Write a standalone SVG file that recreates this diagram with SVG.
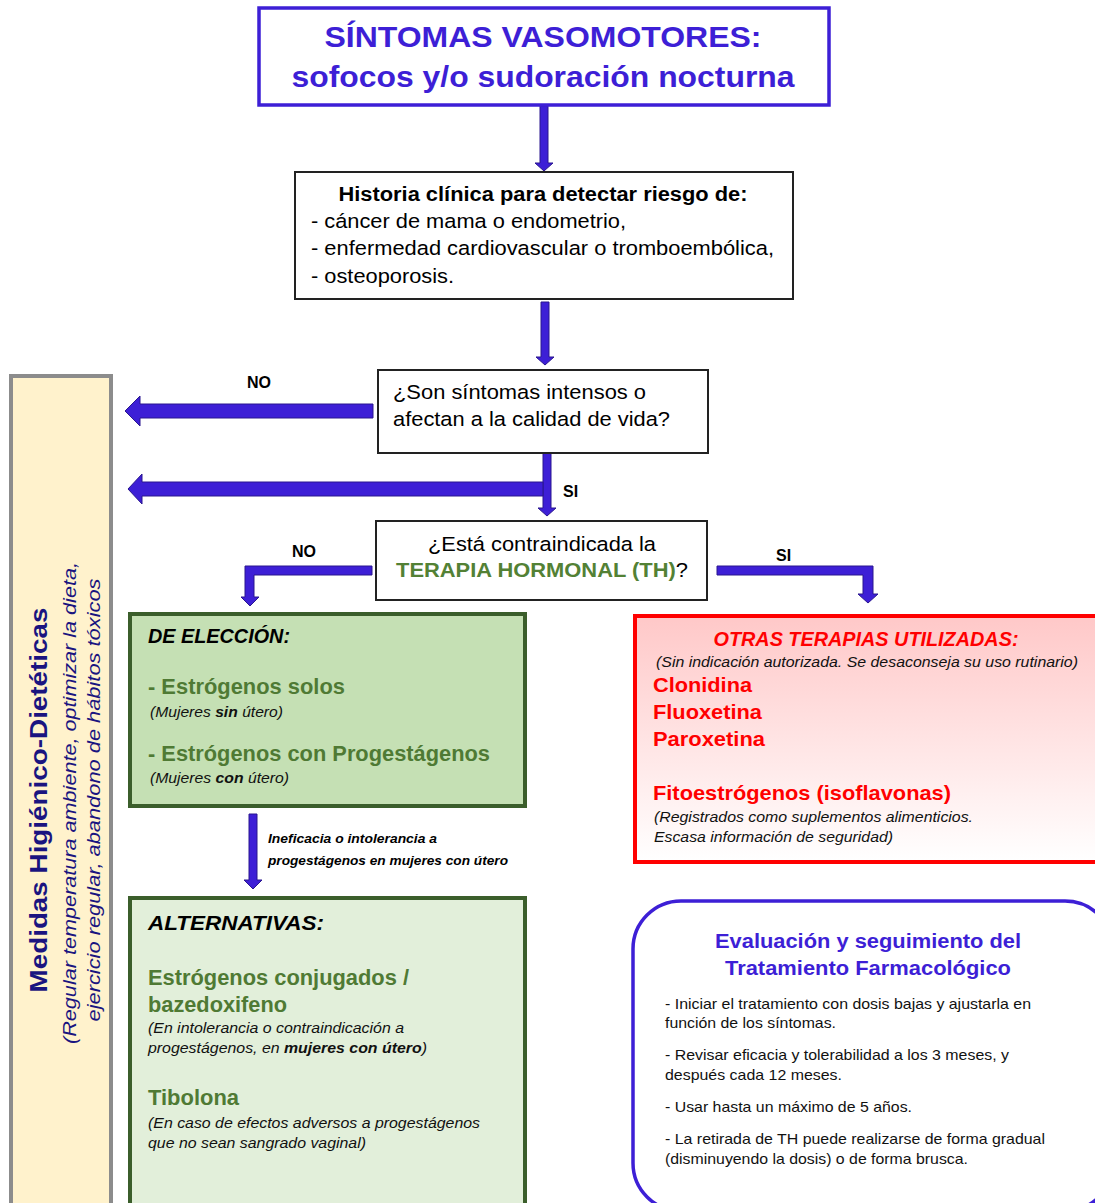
<svg xmlns="http://www.w3.org/2000/svg" width="1095" height="1203" viewBox="0 0 1095 1203">
<defs>
<linearGradient id="redgrad" x1="0" y1="0" x2="0" y2="1">
<stop offset="0" stop-color="#ffc8c8"/>
<stop offset="1" stop-color="#ffffff"/>
</linearGradient>
<style>
text{font-family:"Liberation Sans",Arial,sans-serif;}
.arrow{fill:#3d1fd6;stroke:#2a168f;stroke-width:1;}
.blue{fill:#3d1fd6;}
.lbl{font-size:16px;font-weight:bold;fill:#000;}
.body{font-size:20.5px;fill:#000;}
.green{fill:#4f7a34;font-weight:bold;font-size:21.5px;}
.note{font-size:14.5px;font-style:italic;fill:#111;}
.red{fill:#ff0000;font-weight:bold;font-size:21px;}
.ev{font-size:15px;fill:#111;}
</style>
</defs>
<rect width="1095" height="1203" fill="#ffffff"/>

<g id="connectors">
<polygon class="arrow" points="540,106 548,106 548,163 553,163 544,171 535,163 540,163"/>
<polygon class="arrow" points="541,302 549,302 549,357 554,357 545,365 536,357 541,357"/>
<polygon class="arrow" points="373,404 373,418 140,418 140,426 125,411 140,396 140,404"/>
<polygon class="arrow" points="543,453 551,453 551,508 556,508 547,516 538,508 543,508"/>
<polygon class="arrow" points="543,482 543,496 142,496 142,504 128,489 142,474 142,482"/>
<polygon class="arrow" points="372,566 372,575 254,575 254,597 259,597 250,606 241,597 245,597 245,566"/>
<polygon class="arrow" points="717,566 873,566 873,594 878,594 868,603 858,594 863,594 863,575 717,575"/>
<polygon class="arrow" points="249,814 257,814 257,880 262,880 253,889 244,880 249,880"/>
<text class="lbl" x="247" y="388">NO</text>
<text class="lbl" x="563" y="497">SI</text>
<text class="lbl" x="292" y="557">NO</text>
<text class="lbl" x="776" y="561">SI</text>
<text x="268" y="843" font-size="13.5" font-weight="bold" font-style="italic" textLength="169" lengthAdjust="spacingAndGlyphs">Ineficacia o intolerancia a</text>
<text x="268" y="865" font-size="13.5" font-weight="bold" font-style="italic" textLength="240" lengthAdjust="spacingAndGlyphs">progestágenos en mujeres con útero</text>
</g>

<g id="sintomas">
<rect x="259" y="8" width="570" height="97" fill="#fff" stroke="#3d1fd6" stroke-width="3.5"/>
<text x="543" y="47" text-anchor="middle" font-size="30" font-weight="bold" class="blue" textLength="437" lengthAdjust="spacingAndGlyphs">SÍNTOMAS VASOMOTORES:</text>
<text x="543" y="87" text-anchor="middle" font-size="30" font-weight="bold" class="blue" textLength="503" lengthAdjust="spacingAndGlyphs">sofocos y/o sudoración nocturna</text>
</g>

<g id="historia">
<rect x="295" y="172" width="498" height="127" fill="#fff" stroke="#222" stroke-width="2"/>
<text x="543" y="201" text-anchor="middle" font-size="20" font-weight="bold" textLength="409" lengthAdjust="spacingAndGlyphs">Historia clínica para detectar riesgo de:</text>
<text class="body" x="311" y="228" textLength="315" lengthAdjust="spacingAndGlyphs">- cáncer de mama o endometrio,</text>
<text class="body" x="311" y="255" textLength="463" lengthAdjust="spacingAndGlyphs">- enfermedad cardiovascular o tromboembólica,</text>
<text class="body" x="311" y="283" textLength="143" lengthAdjust="spacingAndGlyphs">- osteoporosis.</text>
</g>

<g id="pregunta1">
<rect x="378" y="370" width="330" height="83" fill="#fff" stroke="#222" stroke-width="2"/>
<text class="body" x="393" y="399" textLength="253" lengthAdjust="spacingAndGlyphs">¿Son síntomas intensos o</text>
<text class="body" x="393" y="426" textLength="277" lengthAdjust="spacingAndGlyphs">afectan a la calidad de vida?</text>
</g>

<g id="pregunta2">
<rect x="376" y="521" width="331" height="79" fill="#fff" stroke="#222" stroke-width="2"/>
<text class="body" x="542" y="551" text-anchor="middle" textLength="228" lengthAdjust="spacingAndGlyphs">¿Está contraindicada la</text>
<text x="542" y="577" text-anchor="middle" font-size="20.5" textLength="292" lengthAdjust="spacingAndGlyphs"><tspan fill="#538135" font-weight="bold">TERAPIA HORMONAL (TH)</tspan><tspan fill="#000">?</tspan></text>
</g>

<g id="medidas">
<rect x="11" y="376" width="100" height="835" fill="#fff2cc" stroke="#8c8c8c" stroke-width="4"/>
<text transform="translate(47,800) rotate(-90)" text-anchor="middle" font-size="24" font-weight="bold" fill="#1a1480" textLength="385" lengthAdjust="spacingAndGlyphs">Medidas Higiénico-Dietéticas</text>
<text transform="translate(76,803) rotate(-90)" text-anchor="middle" font-size="19" font-style="italic" fill="#1a1480" textLength="482" lengthAdjust="spacingAndGlyphs">(Regular temperatura ambiente, optimizar la dieta,</text>
<text transform="translate(100,800) rotate(-90)" text-anchor="middle" font-size="19" font-style="italic" fill="#1a1480" textLength="443" lengthAdjust="spacingAndGlyphs">ejercicio regular, abandono de hábitos tóxicos</text>
</g>

<g id="eleccion">
<rect x="130" y="614" width="395" height="192" fill="#c5e0b4" stroke="#3b5e2b" stroke-width="4"/>
<text x="148" y="643" font-size="19.5" font-weight="bold" font-style="italic" textLength="142" lengthAdjust="spacingAndGlyphs">DE ELECCIÓN:</text>
<text class="green" x="148" y="694" textLength="197" lengthAdjust="spacingAndGlyphs">- Estrógenos solos</text>
<text class="note" x="150" y="717" textLength="133" lengthAdjust="spacingAndGlyphs">(Mujeres <tspan font-weight="bold">sin</tspan> útero)</text>
<text class="green" x="148" y="761" textLength="342" lengthAdjust="spacingAndGlyphs">- Estrógenos con Progestágenos</text>
<text class="note" x="150" y="783" textLength="139" lengthAdjust="spacingAndGlyphs">(Mujeres <tspan font-weight="bold">con</tspan> útero)</text>
</g>

<g id="alternativas">
<rect x="130" y="898" width="395" height="310" fill="#e2efda" stroke="#3b5e2b" stroke-width="4"/>
<text x="148" y="930" font-size="19.5" font-weight="bold" font-style="italic" textLength="176" lengthAdjust="spacingAndGlyphs">ALTERNATIVAS:</text>
<text class="green" x="148" y="985" textLength="261" lengthAdjust="spacingAndGlyphs">Estrógenos conjugados /</text>
<text class="green" x="148" y="1012" textLength="139" lengthAdjust="spacingAndGlyphs">bazedoxifeno</text>
<text class="note" x="148" y="1033" textLength="256" lengthAdjust="spacingAndGlyphs">(En intolerancia o contraindicación a</text>
<text class="note" x="148" y="1053" textLength="279" lengthAdjust="spacingAndGlyphs">progestágenos, en <tspan font-weight="bold">mujeres con útero</tspan>)</text>
<text class="green" x="148" y="1105" textLength="91" lengthAdjust="spacingAndGlyphs">Tibolona</text>
<text class="note" x="148" y="1128" textLength="332" lengthAdjust="spacingAndGlyphs">(En caso de efectos adversos a progestágenos</text>
<text class="note" x="148" y="1148" textLength="218" lengthAdjust="spacingAndGlyphs">que no sean sangrado vaginal)</text>
</g>

<g id="otras">
<rect x="635" y="616" width="470" height="246" fill="url(#redgrad)" stroke="#ff0000" stroke-width="4"/>
<text x="866" y="646" text-anchor="middle" font-size="19.5" font-weight="bold" font-style="italic" fill="#ff0000" textLength="305" lengthAdjust="spacingAndGlyphs">OTRAS TERAPIAS UTILIZADAS:</text>
<text class="note" x="656" y="667" textLength="422" lengthAdjust="spacingAndGlyphs">(Sin indicación autorizada. Se desaconseja su uso rutinario)</text>
<text class="red" x="653" y="692" textLength="99" lengthAdjust="spacingAndGlyphs">Clonidina</text>
<text class="red" x="653" y="719" textLength="109" lengthAdjust="spacingAndGlyphs">Fluoxetina</text>
<text class="red" x="653" y="746" textLength="112" lengthAdjust="spacingAndGlyphs">Paroxetina</text>
<text class="red" x="653" y="800" textLength="298" lengthAdjust="spacingAndGlyphs">Fitoestrógenos (isoflavonas)</text>
<text class="note" x="654" y="822" textLength="319" lengthAdjust="spacingAndGlyphs">(Registrados como suplementos alimenticios.</text>
<text class="note" x="654" y="842" textLength="239" lengthAdjust="spacingAndGlyphs">Escasa información de seguridad)</text>
</g>

<g id="evaluacion">
<rect x="633" y="901" width="480" height="310" rx="48" ry="48" fill="#fff" stroke="#3d1fd6" stroke-width="3.5"/>
<text x="868" y="948" text-anchor="middle" font-size="20" font-weight="bold" class="blue" textLength="306" lengthAdjust="spacingAndGlyphs">Evaluación y seguimiento del</text>
<text x="868" y="975" text-anchor="middle" font-size="20" font-weight="bold" class="blue" textLength="286" lengthAdjust="spacingAndGlyphs">Tratamiento Farmacológico</text>
<text class="ev" x="665" y="1009" textLength="366" lengthAdjust="spacingAndGlyphs">- Iniciar el tratamiento con dosis bajas y ajustarla en</text>
<text class="ev" x="665" y="1028" textLength="171" lengthAdjust="spacingAndGlyphs">función de los síntomas.</text>
<text class="ev" x="665" y="1060" textLength="344" lengthAdjust="spacingAndGlyphs">- Revisar eficacia y tolerabilidad a los 3 meses, y</text>
<text class="ev" x="665" y="1080" textLength="177" lengthAdjust="spacingAndGlyphs">después cada 12 meses.</text>
<text class="ev" x="665" y="1112" textLength="247" lengthAdjust="spacingAndGlyphs">- Usar hasta un máximo de 5 años.</text>
<text class="ev" x="665" y="1144" textLength="380" lengthAdjust="spacingAndGlyphs">- La retirada de TH puede realizarse de forma gradual</text>
<text class="ev" x="665" y="1164" textLength="303" lengthAdjust="spacingAndGlyphs">(disminuyendo la dosis) o de forma brusca.</text>
</g>
</svg>
